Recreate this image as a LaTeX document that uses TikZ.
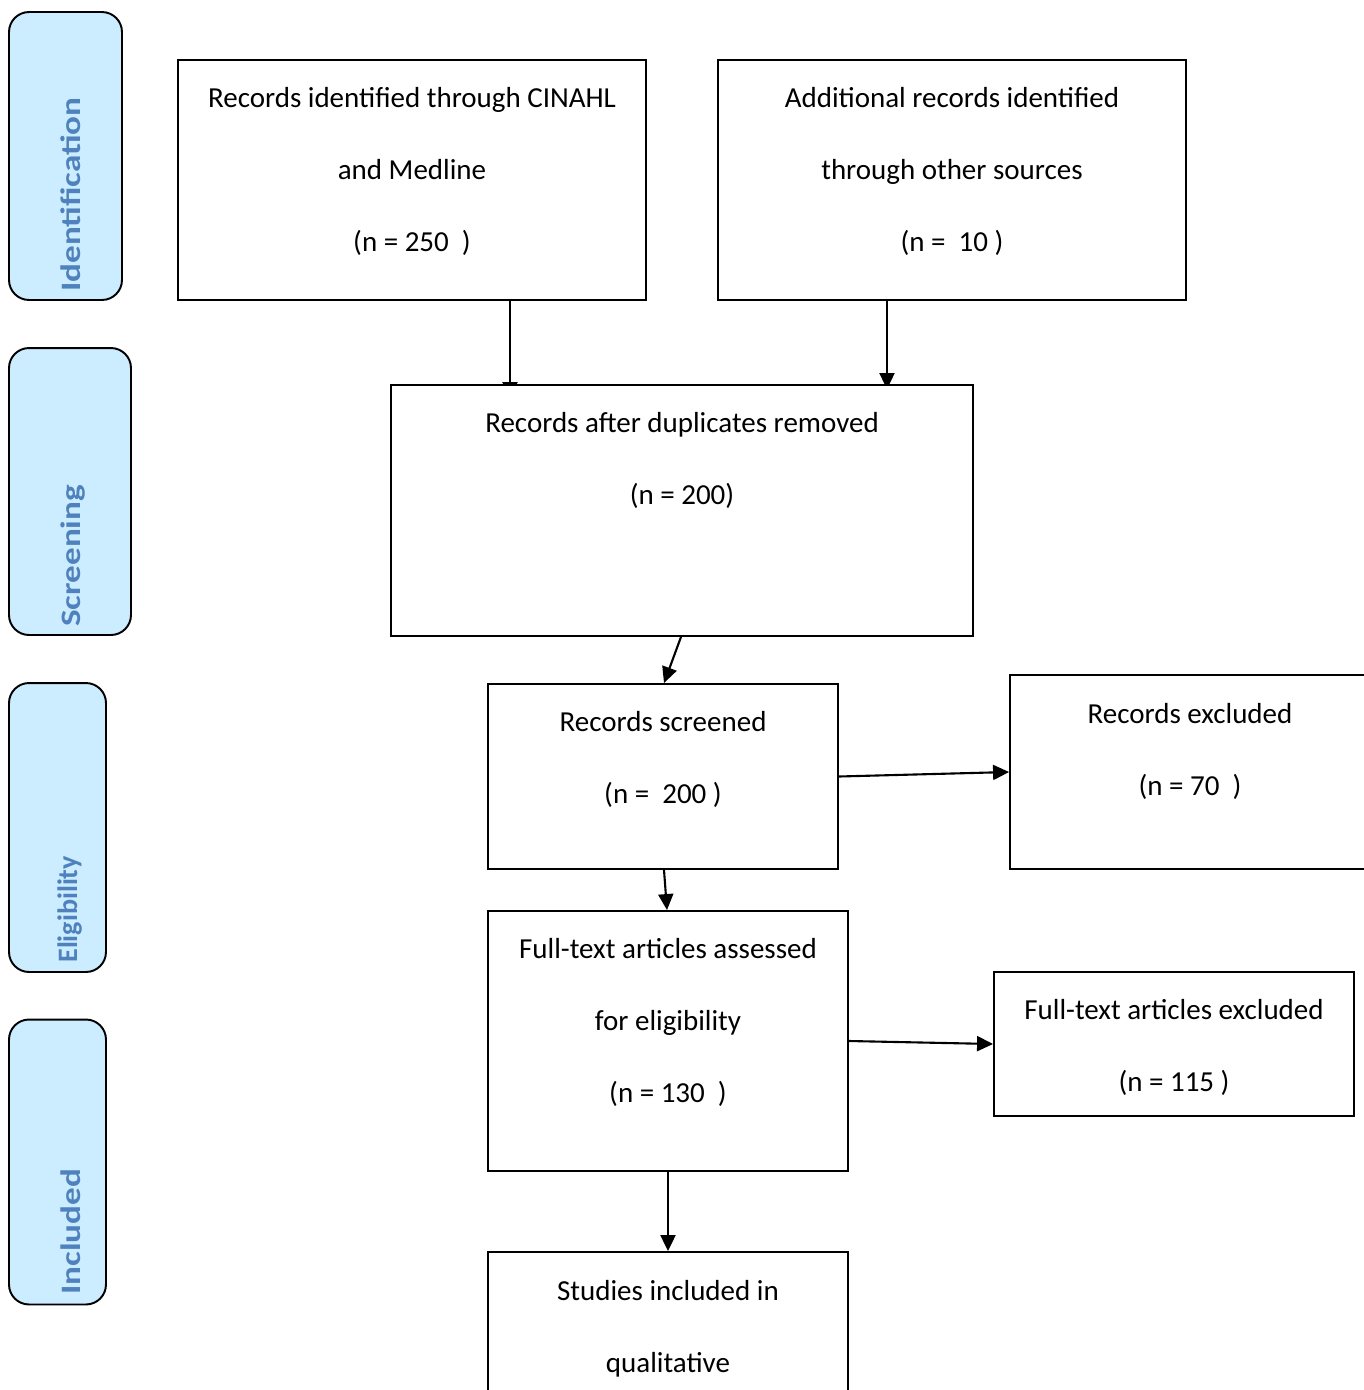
\documentclass[tikz,border=0pt]{standalone}
\usepackage{fontspec}
\setmainfont{Carlito}
\newfontfamily\phasefont[FakeStretch=1.25]{Carlito}
\usepackage{xcolor}
\definecolor{cPhase}{HTML}{4F81BD}
\definecolor{cPhaseFill}{HTML}{CCECFF}
\usetikzlibrary{arrows.meta,calc,backgrounds}
\tikzset{
  node-box/.style={draw=black,line width=1.1pt,fill=white,inner sep=0pt},
  node-text/.style={align=center,inner sep=0pt,
    font=\fontsize{16.5}{41}\selectfont},
  node-phase/.style={draw=black,line width=1.1pt,fill=cPhaseFill,
    rounded corners=0.4cm,inner sep=0pt},
  % rotated stage label, set from its bottom end
  node-phase-text/.style={rotate=90,anchor=base west,inner sep=0pt,
    text=cPhase,font=\phasefont\bfseries\fontsize{16}{16}\selectfont},
  arrow/.style={-{Triangle[length=3.2mm,width=3mm]},line width=1.2pt},
}

\begin{document}
\begin{tikzpicture}[x=0.02cm,y=-0.02cm]
  \useasboundingbox (0,0) rectangle (1364,1390);
  \clip (0,0) rectangle (1364,1390);

  % stages
  \node[node-phase,minimum width=2.26cm,minimum height=5.76cm] (phId)   at (65.5,156)   {};
  \node[node-phase,minimum width=2.44cm,minimum height=5.74cm] (phScr)  at (70,491.5)   {};
  \node[node-phase,minimum width=1.94cm,minimum height=5.78cm] (phElig) at (57.5,827.5) {};
  \node[node-phase,minimum width=1.94cm,minimum height=5.7cm]  (phIncl) at (57.5,1162)  {};
  \node[node-phase-text] (tId)   at (80,292)  {Identification};
  \node[node-phase-text] (tScr)  at (80,627)  {Screening};
  \node[node-phase-text,font=\bfseries\fontsize{16}{16}\selectfont]
                         (tElig) at (77,963)  {Eligibility};
  \node[node-phase-text] (tIncl) at (80,1295) {Included};

  % boxes
  \node[node-box,minimum width=9.36cm,minimum height=4.8cm]  (recDb)     at (412,180)    {};
  \node[node-box,minimum width=9.36cm,minimum height=4.8cm]  (recOther)  at (952,180)    {};
  \node[node-box,minimum width=11.64cm,minimum height=5.02cm](recDedup)  at (682,510.5)  {};
  \node[node-box,minimum width=7cm,minimum height=3.7cm]     (recScreen) at (663,776.5)  {};
  \node[node-box,minimum width=7.2cm,minimum height=3.88cm]  (recExcl)   at (1190,772)   {};
  \node[node-box,minimum width=7.2cm,minimum height=5.2cm]   (fullText)  at (668,1041)   {};
  \node[node-box,minimum width=7.2cm,minimum height=2.88cm]  (fullExcl)  at (1174,1044)  {};
  \node[node-box,minimum width=7.2cm,minimum height=5.2cm]   (studies)   at (668,1382)   {};

  \node[node-text] (tDb)     at (412,171)    {Records identified through CINAHL\\and Medline\\(n = 250~~)};
  \node[node-text] (tOther)  at (952,171)    {Additional records identified\\through other sources\\(n =~~10 )};
  \node[node-text] (tDedup)  at (682,460.5)  {Records after duplicates removed\\(n = 200)};
  \node[node-text] (tScreen) at (663,759.5)  {Records screened\\(n =~~200 )};
  \node[node-text] (tExcl)   at (1190,751)   {Records excluded\\(n = 70~~)};
  \node[node-text] (tFull)   at (668,1022)   {Full-text articles assessed\\for eligibility\\(n = 130~~)};
  \node[node-text] (tFullEx) at (1174,1047.5){Full-text articles excluded\\(n = 115 )};
  \node[node-text] (tStud)   at (668,1328.5) {Studies included in\\qualitative};

  \begin{scope}[on background layer]
    \draw[arrow] ($(recDb.south)+(98,0)$)     -- ($(recDedup.north)+(-172,14)$);
    \draw[arrow] ($(recOther.south)+(-65,-4)$) -- ($(recDedup.north)+(205,5)$);
    \draw[arrow] ($(recDedup.south)+(-1,0)$)  -- ($(recScreen.north)+(1,0)$);
    \draw[arrow] (recScreen.east) -- (recExcl.west);
    \draw[arrow] ($(recScreen.south)+(1,0)$)  -- ($(fullText.north)+(-1,0)$);
    \draw[arrow] (fullText.east) -- (fullExcl.west);
    \draw[arrow] (fullText.south) -- (studies.north);
  \end{scope}
\end{tikzpicture}
\end{document}
